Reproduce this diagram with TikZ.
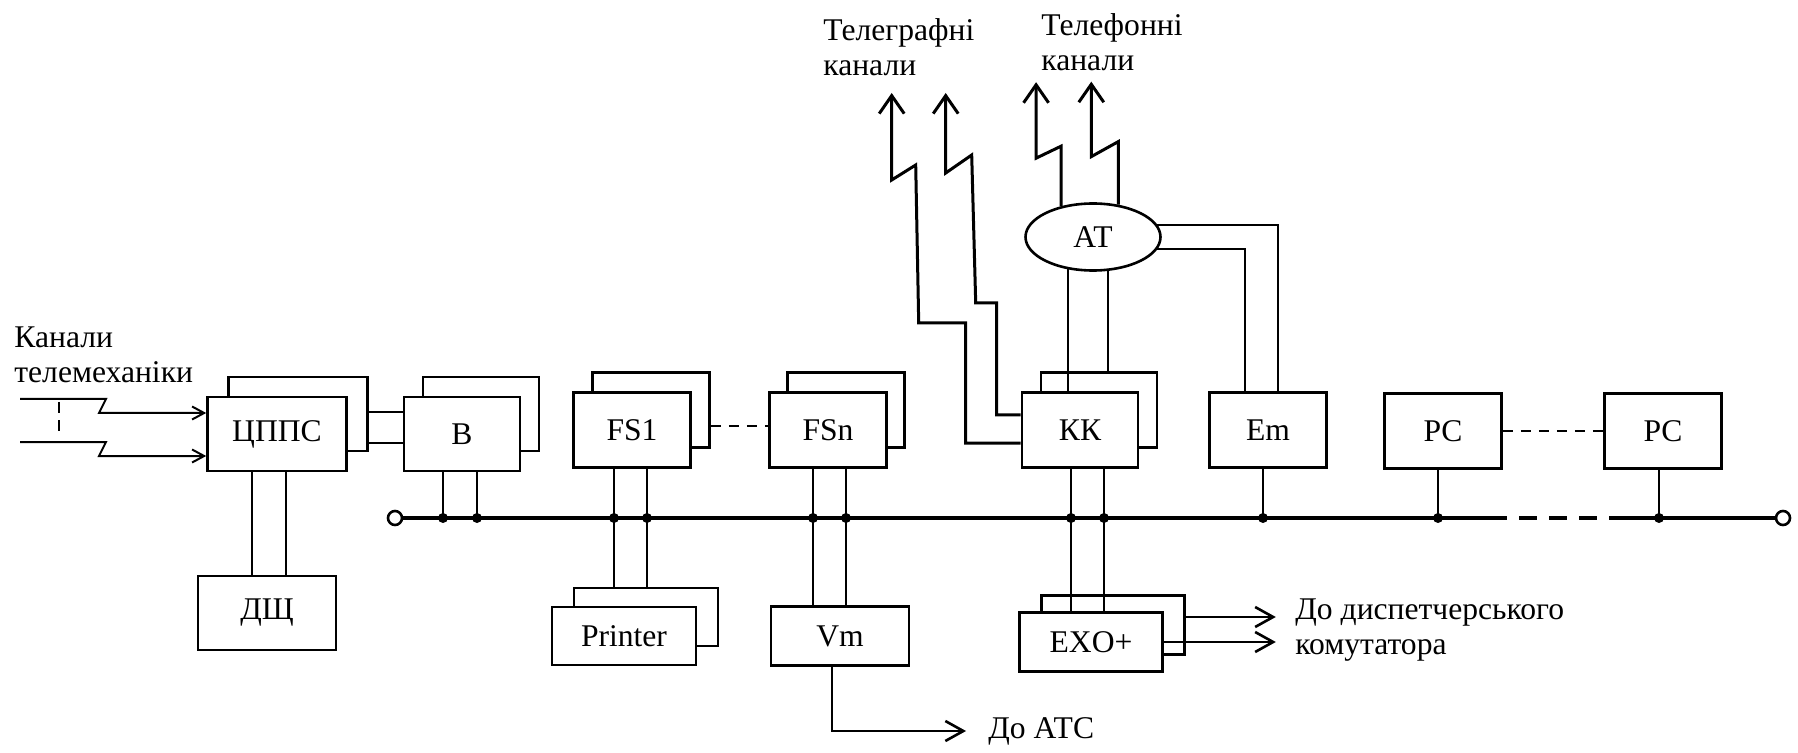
\documentclass[tikz,border=0pt]{standalone}
\usepackage{fontspec}
\setmainfont{Liberation Serif}
\usetikzlibrary{arrows.meta,shapes.geometric}

\begin{document}
\begin{tikzpicture}[
    x=0.5pt, y=-0.5pt,
    every node/.style={font=\fontsize{15.8pt}{17.5pt}\selectfont},
    unit/.style={
      draw=black,
      fill=white,
      line width=1.3pt,
      minimum width=58.5pt,
      minimum height=37.5pt,
      inner sep=0pt
    },
    wideunit/.style={unit, minimum width=69.5pt, minimum height=37pt},
    lowunit/.style={unit, minimum width=71.5pt, minimum height=29.5pt},
    lbl/.style={inner sep=0pt, align=left},
    link/.style={draw=black, line width=1pt},
    bus/.style={draw=black, line width=2pt},
    dot/.style={circle, fill=black, inner sep=0pt, minimum size=5pt},
    term/.style={circle, draw=black, fill=white, line width=1.3pt, inner sep=0pt, minimum size=7pt},
    wave/.style={
      draw=black,
      line width=1.5pt,
      -{Straight Barb[length=9pt,width=12.5pt]}
    },
    feed/.style={
      draw=black,
      line width=1pt,
      -{Straight Barb[length=6pt,width=6.5pt]}
    },
    outlet/.style={
      draw=black,
      line width=1.3pt,
      -{Straight Barb[length=9pt,width=10pt]}
    }
  ]
    \useasboundingbox (0,0) rectangle (1798,753);

    % units, back sheets first
    \node[wideunit] (cppsb) at (298,414) {};
    \node[wideunit] (cppsf) at (277,434) {ЦППС};
    \node[unit, minimum width=58pt, minimum height=37pt] (bb) at (481,414) {};
    \node[unit, minimum width=58pt, minimum height=37pt] (bf) at (462,434) {В};
    \node[unit] (fs1b) at (651,410) {};
    \node[unit] (fs1f) at (632,430) {FS1};
    \node[unit] (fsnb) at (846,410) {};
    \node[unit] (fsnf) at (828,430) {FSn};
    \node[unit, minimum width=58pt] (kkb) at (1099,410) {};
    \node[unit, minimum width=58pt] (kkf) at (1080,430) {КК};
    \node[unit] (em) at (1268,430) {Em};
    \node[unit] (pc1) at (1443,431) {PC};
    \node[unit] (pc2) at (1663,431) {PC};
    \node[wideunit, minimum width=69pt] (dsch) at (267,613) {ДЩ};
    \node[lowunit, minimum width=72pt, minimum height=29pt] (prb) at (646,617) {};
    \node[lowunit, minimum width=72pt, minimum height=29pt] (prf) at (624,636) {Printer};
    \node[lowunit, minimum width=69pt] (vm) at (840,636) {Vm};
    \node[lowunit] (exob) at (1113,625) {};
    \node[lowunit] (exof) at (1091,642) {EXO+};
    \node[ellipse, draw=black, fill=white, line width=1.3pt, minimum width=67.5pt,
      minimum height=33.5pt, inner sep=0pt] (at) at (1093,237) {АТ};

    % texts
    \node[lbl, anchor=west] (telem) at (14,355) {Канали\\телемеханіки};
    \node[lbl, anchor=west] (tgraph) at (823,47) {Телеграфні\\канали};
    \node[lbl, anchor=west] (tphone) at (1041,42) {Телефонні\\канали};
    \node[lbl, anchor=west] (atc) at (988,731) {До АТС};
    \node[lbl, anchor=west] (disp) at (1295,630) {До диспетчерського\\комутатора};

    % bus
    \node[term] (busl) at (395,518) {};
    \node[term] (busr) at (1783,518) {};
    \coordinate (gapl) at (1489,518);
    \coordinate (gapr) at (1619,518);
    \draw[bus] (busl) -- (gapl);
    \draw[bus, dash pattern=on 9pt off 6pt] (gapl) -- (gapr);
    \draw[bus] (gapr) -- (busr);

    % telemechanics inputs
    \coordinate (in1) at (20,399);
    \coordinate (in2) at (20,442);
    \draw[feed] (in1) -- ++(86,0) -- ++(-7,14) -- ([yshift=10.5pt]cppsf.west);
    \draw[feed] (in2) -- ++(86,0) -- ++(-7,14) -- ([yshift=-11pt]cppsf.west);
    \draw[link, dash pattern=on 5.5pt off 3.5pt] ([xshift=19.5pt,yshift=-1.5pt]in1) -- ([xshift=19.5pt,yshift=5.5pt]in2);

    % CPPS links
    \draw[link] ([yshift=1pt]cppsb.east) -- ([yshift=1pt]cppsb.east -| bf.west);
    \draw[link] ([yshift=-14.5pt]cppsb.east) -- ([yshift=-14.5pt]cppsb.east -| bf.west);
    \draw[link] ([xshift=-12.5pt]cppsf.south) -- ([xshift=-12.5pt]cppsf.south |- dsch.north);
    \draw[link] ([xshift=4.5pt]cppsf.south) -- ([xshift=4.5pt]cppsf.south |- dsch.north);

    % taps onto the bus
    \draw[link] ([xshift=-9.5pt]bf.south) -- ([xshift=-9.5pt]bf.south |- busl) node[dot] {};
    \draw[link] ([xshift=7.5pt]bf.south) -- ([xshift=7.5pt]bf.south |- busl) node[dot] {};
    \draw[link] ([xshift=-9pt]fs1f.south) -- ([xshift=-9pt]fs1f.south |- prb.north);
    \draw[link] ([xshift=7.5pt]fs1f.south) -- ([xshift=7.5pt]fs1f.south |- prb.north);
    \node[dot] at ([xshift=-9pt]fs1f.south |- busl) {};
    \node[dot] at ([xshift=7.5pt]fs1f.south |- busl) {};
    \draw[link] ([xshift=-7.5pt]fsnf.south) -- ([xshift=-7.5pt]fsnf.south |- vm.north);
    \draw[link] ([xshift=9pt]fsnf.south) -- ([xshift=9pt]fsnf.south |- vm.north);
    \node[dot] at ([xshift=-7.5pt]fsnf.south |- busl) {};
    \node[dot] at ([xshift=9pt]fsnf.south |- busl) {};
    \draw[link] ([xshift=-4.5pt]kkf.south) -- ([xshift=-4.5pt]kkf.south |- exof.north);
    \draw[link] ([xshift=12pt]kkf.south) -- ([xshift=12pt]kkf.south |- exof.north);
    \node[dot] at ([xshift=-4.5pt]kkf.south |- busl) {};
    \node[dot] at ([xshift=12pt]kkf.south |- busl) {};
    \draw[link] ([xshift=-2.5pt]em.south) -- ([xshift=-2.5pt]em.south |- busl) node[dot] {};
    \draw[link] ([xshift=-2.5pt]pc1.south) -- ([xshift=-2.5pt]pc1.south |- busl) node[dot] {};
    \draw[link] ([xshift=-2pt]pc2.south) -- ([xshift=-2pt]pc2.south |- busl) node[dot] {};

    % dashed continuations
    \draw[link, dash pattern=on 5pt off 4pt] ([yshift=-8pt]fs1b.east) -- ([yshift=-8pt]fs1b.east -| fsnf.west);
    \draw[link, dash pattern=on 5pt off 4pt] (pc1.east) -- (pc2.west);

    % AT links
    \draw[link] (at.232.5) -- (at.232.5 |- kkf.north);
    \draw[link] (at.294.6) -- (at.294.6 |- kkb.north);
    \draw[link] (at.11.7) -| ([xshift=5pt]em.north);
    \draw[link] (at.349.3) -| ([xshift=-11.5pt]em.north);

    % telegraph and telephone channels
    \draw[wave] ([yshift=-6.5pt]kkf.west) -- ++(-55,0) -- ++(0,-120) -- ++(-47,0) -- ++(-3,-158) -- ++(-24,15) -- ++(0,-87);
    \draw[wave] ([yshift=7.5pt]kkf.west) -- ++(-24,0) -- ++(0,-112) -- ++(-21,0) -- ++(-4,-148) -- ++(-26,18) -- ++(0,-80);
    \draw[wave] (at.136) -- ++(0,-60) -- ++(-25,12) -- ++(0,-76);
    \draw[wave] (at.52.5) -- ++(0,-63) -- ++(-27,15) -- ++(0,-75);

    % outputs
    \draw[outlet] ([xshift=-4pt]vm.south) |- ([xshift=-11pt]atc.west);
    \draw[outlet] ([yshift=4pt]exob.east) -- ++(90,0);
    \draw[outlet] (exof.east) -- ++(112,0);
  \end{tikzpicture}
\end{document}
